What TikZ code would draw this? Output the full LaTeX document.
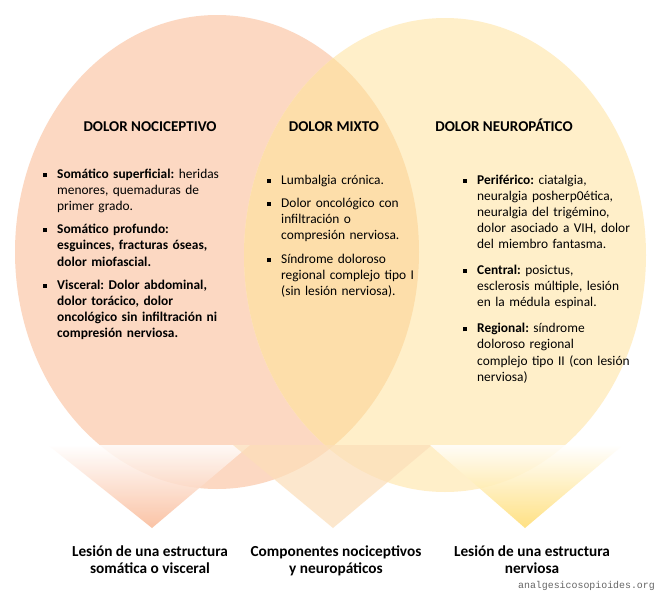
\documentclass[tikz,border=0pt]{standalone}
\usepackage{fontspec}
\setmainfont{Carlito}
\newfontfamily\webfont{Liberation Mono}
\definecolor{noci}{RGB}{252,216,194}
\definecolor{neuro}{RGB}{255,239,201}
\definecolor{mixto}{RGB}{253,222,170}
\definecolor{salmon}{RGB}{250,185,150}
\definecolor{gold}{RGB}{255,220,110}
\definecolor{pale}{RGB}{252,222,185}
\newcommand\bsq{\llap{\makebox[14pt][l]{\rule[1.3pt]{4pt}{4pt}}}}
\newcommand\bfirst{\noindent\bsq}
\newcommand\bitem{\par\noindent\bsq}
\newcommand\lstset[1]{\frenchspacing\setlength{\leftskip}{14pt}\setlength{\parskip}{#1}}
\begin{document}
\begin{tikzpicture}[x=1pt,y=-1pt,
  head/.style={font=\fontsize{15}{18}\selectfont\bfseries,inner sep=0,anchor=base},
  lst/.style={font=\fontsize{13.4}{16.2}\selectfont,text width=#1,align=left,inner sep=0,anchor=base west},
  lbl/.style={font=\fontsize{15.3}{17.5}\selectfont\bfseries,align=center,inner sep=0,anchor=base},
  tri/.style={fill opacity=0.85}]
\useasboundingbox (0,0) rectangle (665,600);
\fill[white] (0,0) rectangle (665,600);
% the two circles and their overlap
\coordinate (nc) at (217,252);
\coordinate (ne) at (445,255);
\fill[noci] (nc) ellipse [x radius=202pt,y radius=237pt];
\fill[neuro] (ne) ellipse [x radius=201pt,y radius=237pt];
\begin{scope}
  \clip (nc) ellipse [x radius=202pt,y radius=237pt];
  \fill[mixto] (ne) ellipse [x radius=201pt,y radius=237pt];
\end{scope}
% triangles
\shade[tri,top color=white,bottom color=salmon] (48,445) -- (250,445) -- (152,528) -- cycle;
\fill[tri,pale,fill opacity=0.7] (233,445) -- (432,445) -- (333,528) -- cycle;
\shade[tri,top color=white,bottom color=gold] (430,445) -- (623,445) -- (525,528) -- cycle;
% headings
\node[head] (hnoci) at (150,131) {DOLOR NOCICEPTIVO};
\node[head] (hmixto) at (334,131) {DOLOR MIXTO};
\node[head] (hneuro) at (504,131) {DOLOR NEUROPÁTICO};
% lists
\node[lst=200pt] (lnoci) at (43,178) {\lstset{7pt}%
\bfirst\textbf{Somático superficial:} heridas\newline menores, quemaduras de\newline primer grado.
\bitem\textbf{Somático profundo:\newline esguinces, fracturas óseas,\newline dolor miofascial.}
\bitem\textbf{Visceral: Dolor abdominal,\newline dolor torácico, dolor\newline oncológico sin infiltración ni\newline compresión nerviosa.}\par};
\node[lst=180pt] (lmixto) at (267,184) {\lstset{7.3pt}%
\bfirst Lumbalgia crónica.
\bitem Dolor oncológico con\newline infiltración o\newline compresión nerviosa.
\bitem Síndrome doloroso\newline regional complejo tipo I\newline (sin lesión nerviosa).\par};
\node[lst=200pt] (lneuro) at (463,184) {\lstset{9.5pt}%
\bfirst\textbf{Periférico:} ciatalgia,\newline neuralgia posherp0ética,\newline neuralgia del trigémino,\newline dolor asociado a VIH, dolor\newline del miembro fantasma.
\bitem\textbf{Central:} posictus,\newline esclerosis múltiple, lesión\newline en la médula espinal.
\bitem\textbf{Regional:} síndrome\newline doloroso regional\newline complejo tipo II (con lesión\newline nerviosa)\par};
% labels under the triangles
\node[lbl] (bnoci) at (150,573.5) {Lesión de una estructura\\somática o visceral};
\node[lbl] (bmixto) at (336,573.5) {Componentes nociceptivos\\y neuropáticos};
\node[lbl] (bneuro) at (532,573.5) {Lesión de una estructura\\nerviosa};
\node[font=\webfont\fontsize{9.9}{12}\selectfont,text=black!60,inner sep=0,anchor=base east] (web) at (655,588) {analgesicosopioides.org};
\end{tikzpicture}
\end{document}
